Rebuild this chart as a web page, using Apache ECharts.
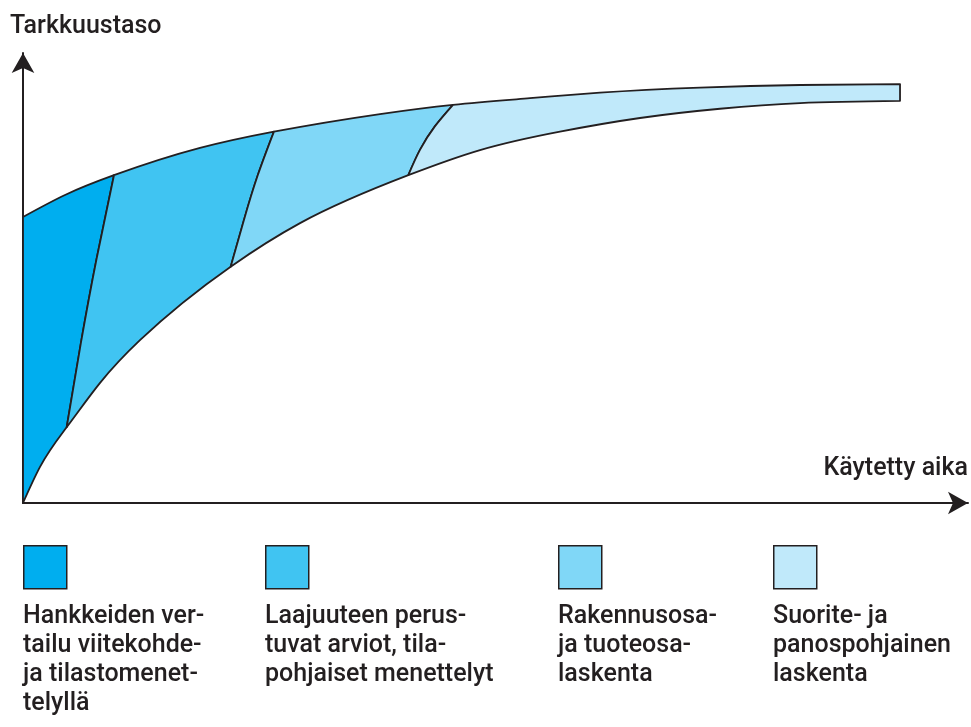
<!DOCTYPE html>
<html>
<head>
<meta charset="utf-8">
<script src="https://cdn.jsdelivr.net/npm/echarts@6/dist/echarts.min.js"></script>
<style>html,body{margin:0;padding:0;background:#fff;}#c{width:971px;height:727px;}</style>
</head>
<body>
<div id="c"></div>
<script>
// ---- data ----
const upperCurve = [[0,65.0],[4.49,70.0],[9.73,74.5],[18.93,80.7],[26.84,84.4],[38.18,88.4],[45.99,90.5],[54.22,92.0],[61.71,93.25],[72.41,94.4],[83.10,95.0],[93.80,95.2]];
const lowerCurve = [[0,0],[1.82,8.2],[4.67,17.2],[8.24,27.3],[12.51,37.0],[22.21,53.7],[29.63,63.6],[41.21,74.5],[48.88,80.2],[57.43,84.4],[65.99,87.5],[74.55,89.6],[83.10,90.9],[93.80,91.4]];
const dividerTopIndex = [2, 4, 6];
const dividerBottomIndex = [2, 5, 7];
const dividerMids = [
  [[7.86,55.4],[6.18,36.2]],
  [[25.08,74.3],[23.60,64.1]],
  [[44.05,85.6],[42.47,80.3]]
];
const regionNames = [
  'Hankkeiden ver-\ntailu viitekohde-\nja tilastomenet-\ntelyllä',
  'Laajuuteen perus-\ntuvat arviot, tila-\npohjaiset menettelyt',
  'Rakennusosa-\nja tuoteosa-\nlaskenta',
  'Suorite- ja\npanospohjainen\nlaskenta'
];
const regionColors = ['#00aeef', '#40c4f2', '#80d7f7', '#c0e9fa'];
const xAxisName = 'Käytetty aika';
const yAxisName = 'Tarkkuustaso';
const xAxisMax = 101.07;   // axis runs a little past the drawn band, to the arrow tip
const yAxisMax = 102.27;

const INK = '#231f20';
const FONT = 'Roboto, "Noto Sans", sans-serif';

// natural cubic spline slopes dv/dt at knots (rendering helper only)
function splineSlopes(t, v) {
  const n = t.length;
  if (n < 3) { const s = (v[1] - v[0]) / (t[1] - t[0]); return [s, s]; }
  const h = [];
  for (let i = 0; i < n - 1; i++) h.push(t[i + 1] - t[i]);
  const a = new Array(n).fill(0), b = new Array(n).fill(1), c = new Array(n).fill(0), r = new Array(n).fill(0);
  for (let i = 1; i < n - 1; i++) {
    a[i] = h[i - 1]; b[i] = 2 * (h[i - 1] + h[i]); c[i] = h[i];
    r[i] = 6 * ((v[i + 1] - v[i]) / h[i] - (v[i] - v[i - 1]) / h[i - 1]);
  }
  for (let i = 1; i < n; i++) { const m = a[i] / b[i - 1]; b[i] -= m * c[i - 1]; r[i] -= m * r[i - 1]; }
  const M = new Array(n).fill(0);
  M[n - 1] = r[n - 1] / b[n - 1];
  for (let i = n - 2; i >= 0; i--) M[i] = (r[i] - c[i] * M[i + 1]) / b[i];
  const s = [];
  for (let i = 0; i < n - 1; i++) s.push((v[i + 1] - v[i]) / h[i] - h[i] * (2 * M[i] + M[i + 1]) / 6);
  s.push((v[n - 1] - v[n - 2]) / h[n - 2] + h[n - 2] * (M[n - 2] + 2 * M[n - 1]) / 6);
  return s;
}
// bezier segments; byY=false: param is pixel x, value pixel y; byY=true: the reverse
function makeCurve(P, byY) {
  const t = P.map(p => byY ? p[1] : p[0]);
  const v = P.map(p => byY ? p[0] : p[1]);
  const m = splineSlopes(t, v);
  const segs = [];
  for (let k = 0; k < P.length - 1; k++) {
    const h = t[k + 1] - t[k];
    const c1t = t[k] + h / 3, c1v = v[k] + m[k] * h / 3;
    const c2t = t[k + 1] - h / 3, c2v = v[k + 1] - m[k + 1] * h / 3;
    segs.push(byY ? [[c1v, c1t], [c2v, c2t]] : [[c1t, c1v], [c2t, c2v]]);
  }
  return { P: P, segs: segs };
}
function fwd(C, a, b) {
  let s = '';
  for (let k = a; k < b; k++) {
    const g = C.segs[k], p = C.P[k + 1];
    s += ' C' + g[0][0] + ',' + g[0][1] + ' ' + g[1][0] + ',' + g[1][1] + ' ' + p[0] + ',' + p[1];
  }
  return s;
}
function bwd(C, b, a) {
  let s = '';
  for (let k = b - 1; k >= a; k--) {
    const g = C.segs[k], p = C.P[k];
    s += ' C' + g[1][0] + ',' + g[1][1] + ' ' + g[0][0] + ',' + g[0][1] + ' ' + p[0] + ',' + p[1];
  }
  return s;
}

function renderRegion(params, api) {
  const r = params.dataIndex;
  const U = makeCurve(upperCurve.map(p => api.coord(p)), false);
  const L = makeCurve(lowerCurve.map(p => api.coord(p)), false);
  const D = dividerMids.map((m, i) => makeCurve(
    [upperCurve[dividerTopIndex[i]]].concat(m, [lowerCurve[dividerBottomIndex[i]]]).map(p => api.coord(p)), true));
  const uA = r === 0 ? 0 : dividerTopIndex[r - 1];
  const uB = r === 3 ? U.P.length - 1 : dividerTopIndex[r];
  const lA = r === 0 ? 0 : dividerBottomIndex[r - 1];
  const lB = r === 3 ? L.P.length - 1 : dividerBottomIndex[r];
  let d = 'M' + U.P[uA][0] + ',' + U.P[uA][1] + fwd(U, uA, uB);
  if (r < 3) d += fwd(D[r], 0, D[r].P.length - 1);
  else d += ' L' + L.P[lB][0] + ',' + L.P[lB][1];
  d += bwd(L, lB, lA);
  if (r > 0) d += bwd(D[r - 1], D[r - 1].P.length - 1, 0);
  d += ' Z';
  return {
    type: 'path',
    shape: { pathData: d },
    style: { fill: regionColors[r], stroke: INK, lineWidth: 1.8, lineJoin: 'round' }
  };
}

const legendX = [23, 265, 558, 773];
const graphics = [];
regionNames.forEach((name, i) => {
  graphics.push({
    type: 'rect', left: legendX[i], top: 545,
    shape: { width: 43, height: 43 },
    style: { fill: regionColors[i], stroke: INK, lineWidth: 1.5 }
  });
  graphics.push({
    type: 'text', left: legendX[i], top: 602,
    style: { text: name, fill: INK, font: '500 25px ' + FONT, lineHeight: 29 }
  });
});

const chart = echarts.init(document.getElementById('c'), null, { renderer: 'canvas' });
chart.setOption({
  animation: false,
  backgroundColor: '#fff',
  grid: { left: 23, right: 3, top: 53, bottom: 224, containLabel: false, outerBoundsMode: 'none' },
  xAxis: {
    type: 'value', min: 0, max: xAxisMax,
    name: xAxisName, nameLocation: 'end', nameGap: 0,
    nameTextStyle: { color: INK, fontSize: 25, fontWeight: 500, fontFamily: FONT, align: 'right', verticalAlign: 'bottom', padding: [0, 0, 22, 0] },
    axisLine: { show: true, symbol: ['none', 'arrow'], symbolSize: [17, 20], lineStyle: { color: INK, width: 2 } },
    axisTick: { show: false }, axisLabel: { show: false }, splitLine: { show: false }
  },
  yAxis: {
    type: 'value', min: 0, max: yAxisMax,
    name: yAxisName, nameLocation: 'end', nameGap: 14,
    nameTextStyle: { color: INK, fontSize: 25, fontWeight: 500, fontFamily: FONT, align: 'left', verticalAlign: 'bottom', padding: [0, 0, 0, -13] },
    axisLine: { show: true, onZero: false, symbol: ['none', 'arrow'], symbolSize: [17, 20], lineStyle: { color: INK, width: 2 } },
    axisTick: { show: false }, axisLabel: { show: false }, splitLine: { show: false }
  },
  series: [{
    type: 'custom',
    coordinateSystem: 'cartesian2d',
    renderItem: renderRegion,
    data: [[0, 0], [1, 0], [2, 0], [3, 0]],
    encode: { x: 0, y: 1 },
    silent: true,
    clip: false
  }],
  graphic: graphics
});
</script>
</body>
</html>
